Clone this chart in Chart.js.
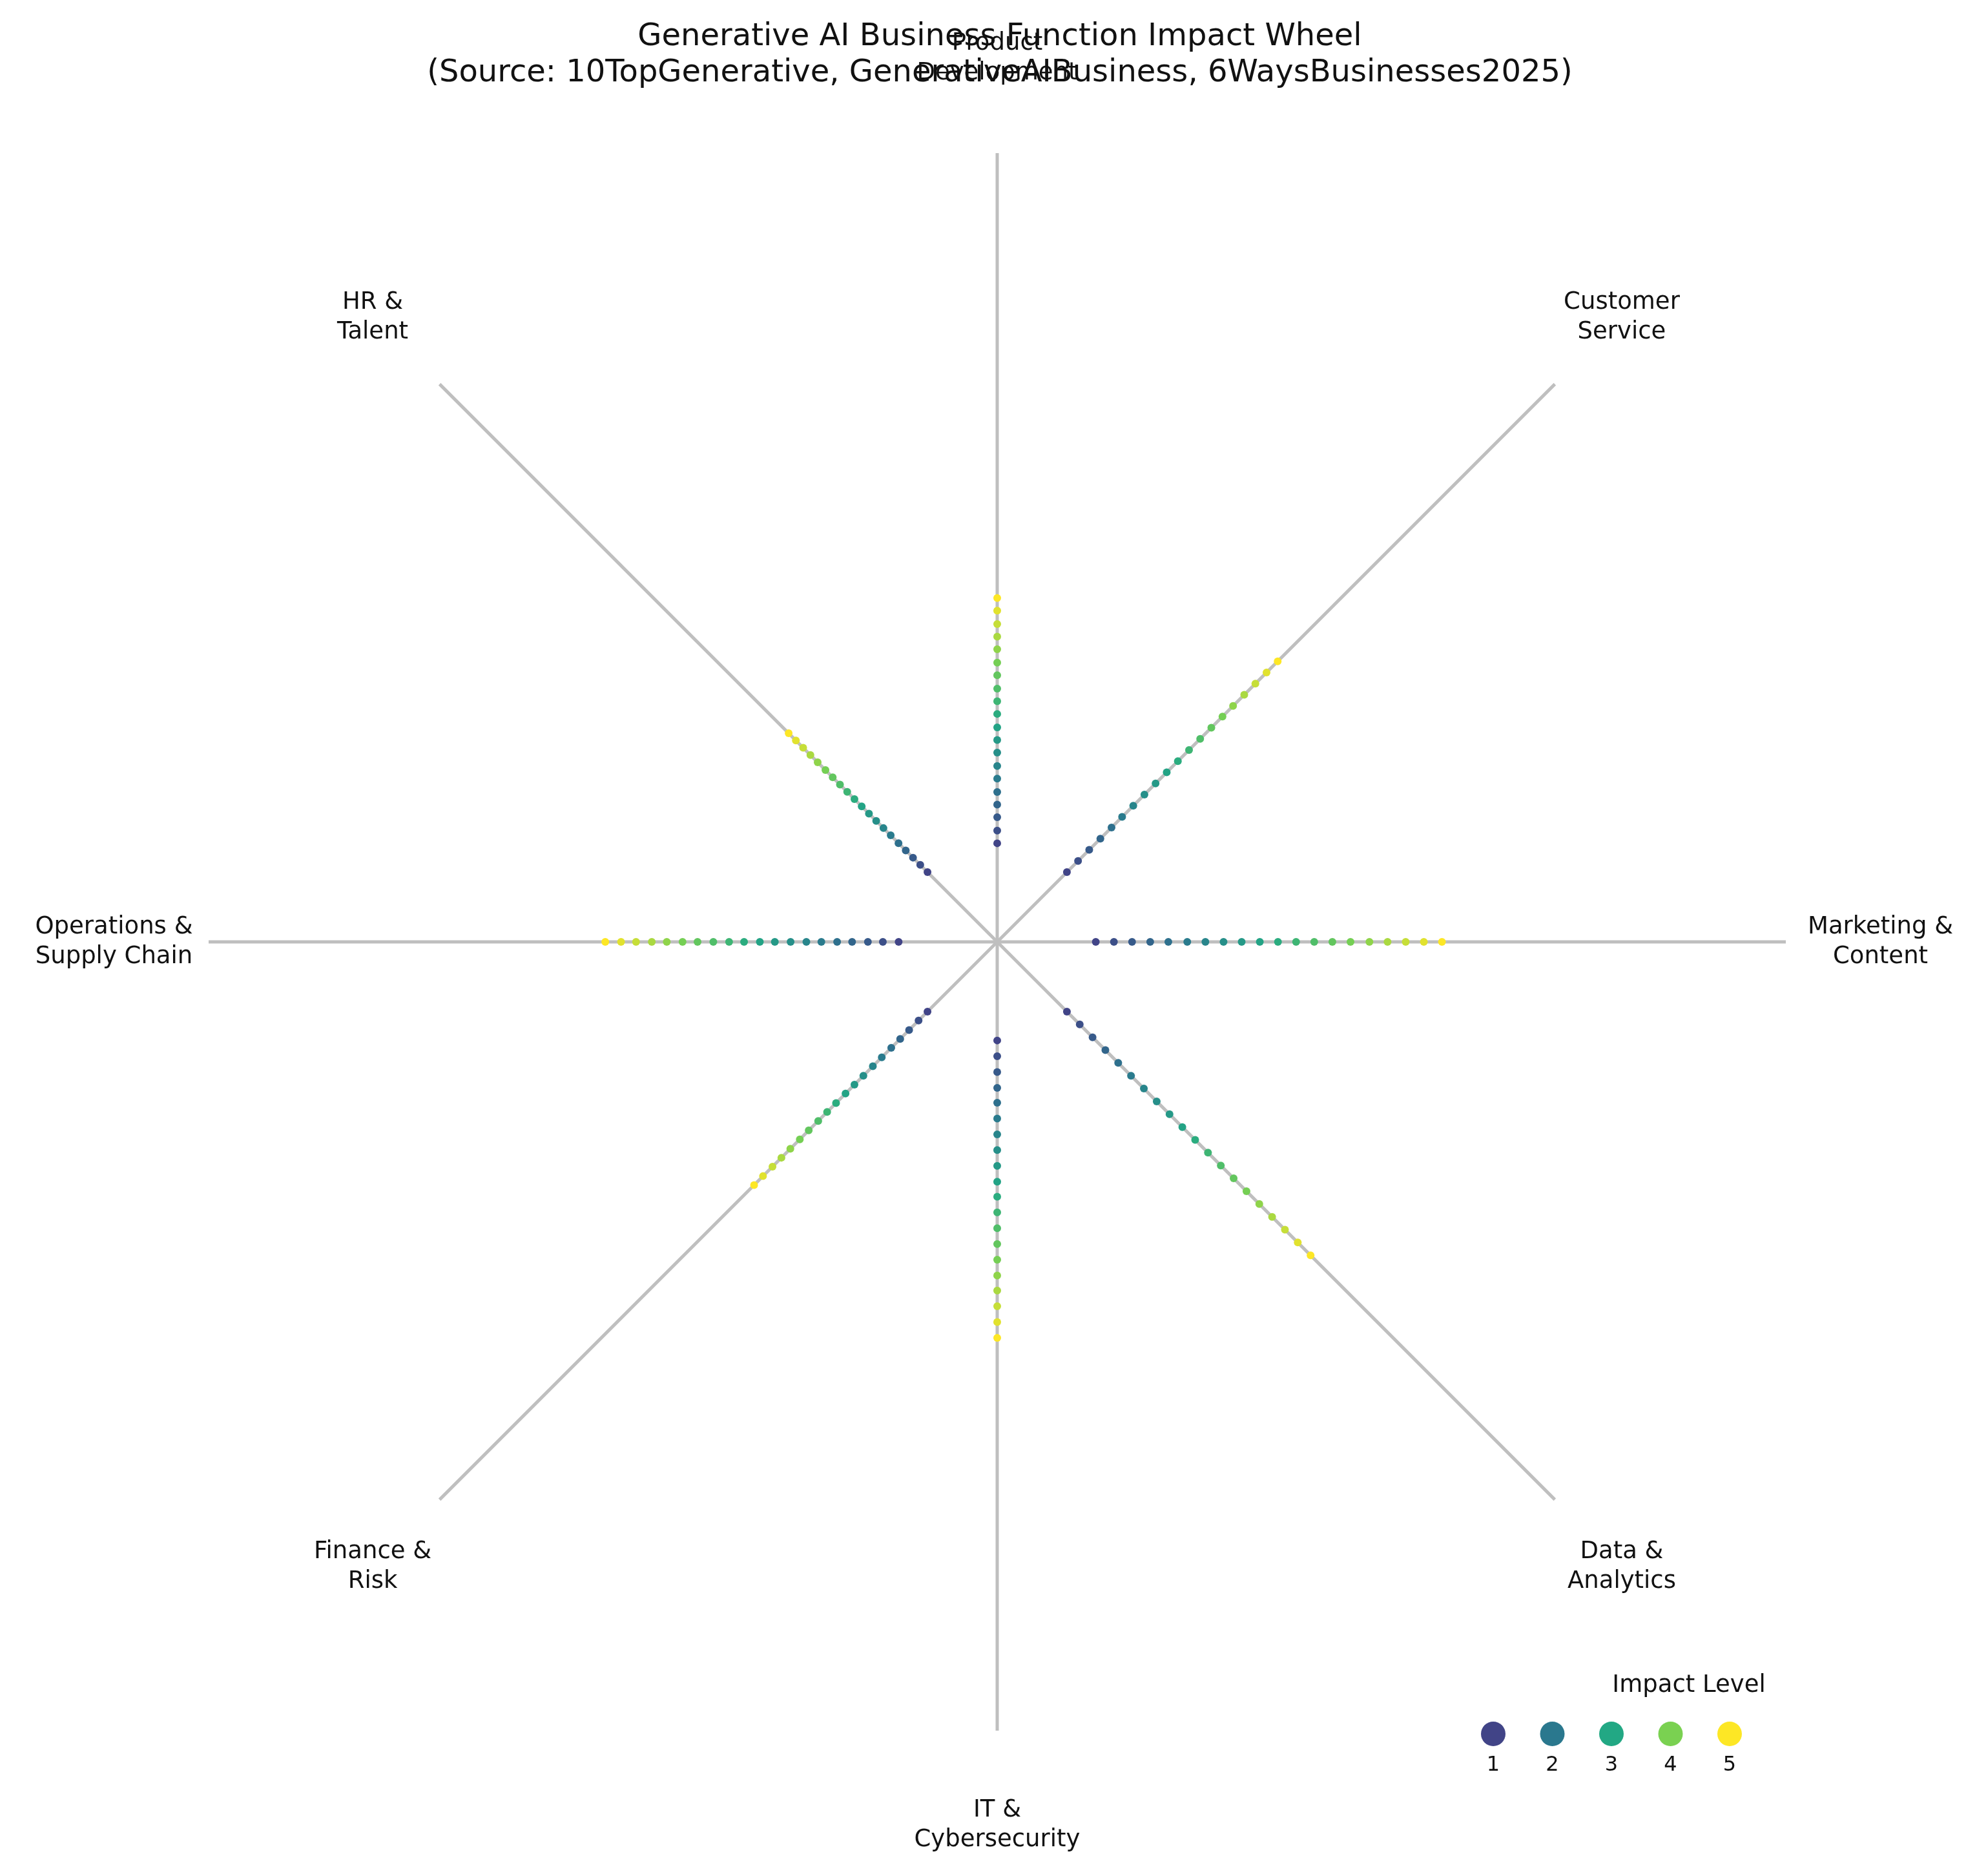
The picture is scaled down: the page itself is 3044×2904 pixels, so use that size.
<!DOCTYPE html>
<html><head><meta charset="utf-8">
<script src="https://cdn.jsdelivr.net/npm/chart.js@4"></script>
<style>html,body{margin:0;padding:0;background:#fff}#wrap{width:3044px;height:2904px}</style>
</head><body><div id="wrap"><canvas id="c"></canvas></div>
<script>
const functions = ["Marketing &\nContent","Customer\nService","Product\nDevelopment","HR &\nTalent","Operations &\nSupply Chain","Finance &\nRisk","IT &\nCybersecurity","Data &\nAnalytics"];
const anglesDeg = [0,45,90,135,180,225,270,315];
const marketing = [1.25,1.48,1.71,1.94,2.17,2.41,2.64,2.87,3.10,3.33,3.56,3.79,4.02,4.25,4.48,4.72,4.95,5.18,5.41,5.64];
const customer = [1.25,1.45,1.65,1.85,2.05,2.24,2.44,2.64,2.84,3.04,3.24,3.44,3.64,3.84,4.04,4.23,4.43,4.63,4.83,5.03];
const product = [1.25,1.41,1.58,1.74,1.90,2.07,2.23,2.40,2.56,2.72,2.89,3.05,3.21,3.38,3.54,3.71,3.87,4.03,4.20,4.36];
const hr = [1.25,1.38,1.51,1.64,1.77,1.91,2.04,2.17,2.30,2.43,2.56,2.69,2.82,2.95,3.08,3.22,3.35,3.48,3.61,3.74];
const operations = [1.25,1.45,1.64,1.84,2.03,2.23,2.42,2.62,2.82,3.01,3.21,3.40,3.60,3.80,3.99,4.19,4.38,4.58,4.77,4.97];
const finance = [1.25,1.41,1.58,1.74,1.90,2.07,2.23,2.40,2.56,2.72,2.89,3.05,3.21,3.38,3.54,3.71,3.87,4.03,4.20,4.36];
const itsec = [1.25,1.45,1.65,1.85,2.04,2.24,2.44,2.64,2.84,3.04,3.23,3.43,3.63,3.83,4.03,4.23,4.42,4.62,4.82,5.02];
const data = [1.25,1.48,1.71,1.94,2.17,2.40,2.63,2.86,3.09,3.32,3.55,3.78,4.01,4.24,4.47,4.70,4.93,5.16,5.39,5.62];
const spokeValues = [marketing,customer,product,hr,operations,finance,itsec,data];
const impactLevels = [1,2,3,4,5];
const axisLength = 10;
const labelRadius = 11.2;

const levelColors = ["#414487","#2a788e","#22a884","#7ad151","#fde725"];
function hex(h){return [1,3,5].map(i=>parseInt(h.substr(i,2),16));}
function ramp(t){
  const s=t*4, i=Math.min(3,Math.floor(s)), f=s-i;
  const a=hex(levelColors[i]), b=hex(levelColors[i+1]);
  return `rgb(${a.map((v,k)=>Math.round(v+(b[k]-v)*f)).join(',')})`;
}
const rad = d=>d*Math.PI/180;
const datasets = [];
anglesDeg.forEach(a=>{
  datasets.push({type:'line',data:[{x:0,y:0},{x:axisLength*Math.cos(rad(a)),y:axisLength*Math.sin(rad(a))}],
    borderColor:'#bfbfbf',borderWidth:5,pointRadius:0,order:2});
});
spokeValues.forEach((vals,k)=>{
  const a=rad(anglesDeg[k]);
  datasets.push({type:'scatter',data:vals.map(r=>({x:r*Math.cos(a),y:r*Math.sin(a)})),
    pointRadius:6,pointBorderWidth:0,
    pointBackgroundColor:vals.map((_,i)=>ramp(i/(vals.length-1))),order:1});
});

const decor = {id:'decor',afterDraw(ch){
  const c=ch.ctx, xs=ch.scales.x, ys=ch.scales.y;
  c.save(); c.fillStyle='#111'; c.textAlign='center'; c.textBaseline='middle';
  c.font='37px "DejaVu Sans"';
  functions.forEach((f,k)=>{
    const a=rad(anglesDeg[k]);
    const px=xs.getPixelForValue(labelRadius*Math.cos(a)), py=ys.getPixelForValue(labelRadius*Math.sin(a));
    const lines=f.split('\n');
    lines.forEach((l,i)=>c.fillText(l,px,py+(i-(lines.length-1)/2)*46));
  });
  c.font='48px "DejaVu Sans"';
  c.fillText('Generative AI Business Function Impact Wheel',1548,58);
  c.fillText('(Source: 10TopGenerative, GenerativeAIBusiness, 6WaysBusinesses2025)',1548,114);
  c.font='37px "DejaVu Sans"';
  c.fillText('Impact Level',2615,2609);
  impactLevels.forEach((lv,i)=>{
    const x=2312+i*91.5;
    c.beginPath(); c.arc(x,2684,19,0,Math.PI*2); c.fillStyle=levelColors[i]; c.fill();
    c.fillStyle='#111'; c.font='32px "DejaVu Sans"'; c.fillText(String(lv),x,2733);
  });
  c.restore();
}};

new Chart(document.getElementById('c'),{
  type:'scatter',data:{datasets},
  options:{responsive:true,maintainAspectRatio:false,animation:false,devicePixelRatio:1,
    layout:{padding:{left:323,right:279,top:237,bottom:225}},
    scales:{x:{type:'linear',min:-10,max:10,display:false},y:{type:'linear',min:-10,max:10,display:false}},
    plugins:{legend:{display:false},tooltip:{enabled:false}}},
  plugins:[decor]
});
</script></body></html>
